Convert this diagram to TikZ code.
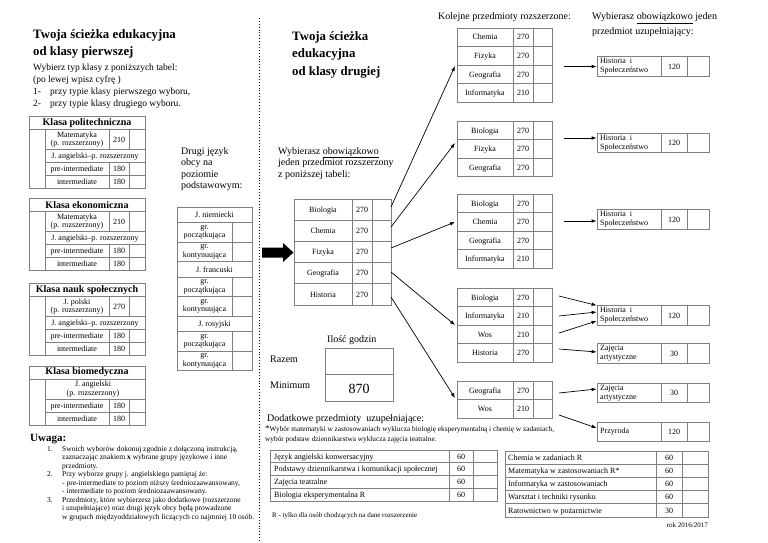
\documentclass[tikz,border=0pt]{standalone}
\usepackage{fontspec}
\setmainfont{Liberation Serif}
\usetikzlibrary{arrows.meta}

\newcommand{\fsz}[2]{\fontsize{#1}{#2}\selectfont}

\begin{document}
\begin{tikzpicture}[x=1pt,y=-1pt,
  frm/.style={draw=black!50,line width=.7pt},
  txt/.style={inner sep=0pt,anchor=base west,align=left},
  cell/.style={inner sep=0pt,align=center,font=\fsz{8}{8.6}},
  arr/.style={-{Latex[length=5pt,width=3.6pt]},line width=.7pt},
  sbox/.style={frm,minimum width=112pt,minimum height=19.5pt,inner sep=0pt}]

\useasboundingbox (0,0) rectangle (768,543);

% dotted separator
\draw[dotted,line width=.9pt] (259,18) -- (259,541);

% first class (base of a text block = base of its last line)
\node[txt,font=\bfseries\fsz{12.8}{16.5}] (tit1) at (33,55.5) {Twoja ścieżka edukacyjna\\od klasy pierwszej};
\node[txt,font=\fsz{9.5}{11.8}] (intro) at (33,106) {Wybierz typ klasy z poniższych tabel:\\(po lewej wpisz cyfrę )\\\makebox[17pt][l]{1-}przy typie klasy pierwszego wyboru,\\\makebox[17pt][l]{2-}przy typie klasy drugiego wyboru.};

\foreach \ty/\nm/\sj/\hh [count=\i] in {116/Klasa politechniczna/{Matematyka\\(p. rozszerzony)}/210,
  198/Klasa ekonomiczna/{Matematyka\\(p. rozszerzony)}/210,
  283/Klasa nauk społecznych/{J. polski\\(p. rozszerzony)}/270}{
  \draw[frm] (29,\ty) rectangle (145,\ty+72);
  \draw[frm] (29,\ty+13.5) -- (145,\ty+13.5) (45,\ty+13.5) -- (45,\ty+72);
  \foreach \y in {33,46,59} \draw[frm] (45,\ty+\y) -- (145,\ty+\y);
  \draw[frm] (109,\ty+13.5) -- (109,\ty+33) (129,\ty+13.5) -- (129,\ty+33);
  \draw[frm] (109,\ty+46) -- (109,\ty+72) (129,\ty+46) -- (129,\ty+72);
  \node[font=\bfseries\fsz{10}{10},inner sep=0pt] (kl\i) at (87,\ty+7) {\nm};
  \node[cell] (km\i) at (77,\ty+23.5) {\sj};
  \node[cell] (kh\i) at (119,\ty+23.5) {\hh};
  \node[cell,anchor=base] (ka\i) at (95,\ty+42) {J. angielski–p. rozszerzony};
  \node[cell,anchor=base] (kp\i) at (77,\ty+55) {pre-intermediate};
  \node[cell,anchor=base] (kq\i) at (119,\ty+55) {180};
  \node[cell,anchor=base] (ki\i) at (77,\ty+68) {intermediate};
  \node[cell,anchor=base] (kr\i) at (119,\ty+68) {180};
}

% biomedyczna
\draw[frm] (29,366) rectangle (145,425);
\draw[frm] (29,379) -- (145,379) (45,379) -- (45,425);
\draw[frm] (45,399) -- (145,399) (45,412) -- (145,412);
\draw[frm] (109,399) -- (109,425) (129,399) -- (129,425);
\node[font=\bfseries\fsz{10}{10},inner sep=0pt] (kl4) at (87,372.5) {Klasa biomedyczna};
\node[cell] (km4) at (93,389) {J. angielski\\(p. rozszerzony)};
\node[cell,anchor=base] (kp4) at (77,408) {pre-intermediate};
\node[cell,anchor=base] (kq4) at (119,408) {180};
\node[cell,anchor=base] (ki4) at (77,421) {intermediate};
\node[cell,anchor=base] (kr4) at (119,421) {180};

% uwaga
\node[txt,font=\bfseries\fsz{11}{11}] (uw) at (30,441) {Uwaga:};
\foreach \n/\y in {1/451,2/476.5,3/502}
  \node[txt,font=\fsz{7.5}{8.5}] (un\n) at (47,\y) {\n.};
\node[txt,font=\fsz{7.5}{8.5}] (ut1) at (62,468) {Swoich wyborów dokonuj zgodnie z dołączoną instrukcją,\\zaznaczając znakiem \textbf{x} wybrane grupy językowe i inne\\przedmioty.};
\node[txt,font=\fsz{7.5}{8.5}] (ut2) at (62,493.5) {Przy wyborze grupy j. angielskiego pamiętaj że:\\- pre-intermediate to poziom niższy średniozaawansowany,\\- intermediate to poziom średniozaawansowany.};
\node[txt,font=\fsz{7.5}{8.5}] (ut3) at (62,519) {Przedmioty, które wybierzesz jako dodatkowe (rozszerzone\\i uzupełniające) oraz drugi język obcy będą prowadzone\\w grupach międzyoddziałowych liczących co najmniej 10 osób.};

% second language
\node[txt,font=\fsz{10}{11.5}] (drugi) at (181,188.5) {Drugi język\\obcy na\\poziomie\\podstawowym:};
\foreach \j/\lang in {0/J. niemiecki,1/J. francuski,2/J. rosyjski}{
  \pgfmathsetmacro\y{207+54.5*\j}
  \draw[frm] (177,\y) rectangle (252,\y+54.5);
  \draw[frm] (177,\y+15.5) -- (252,\y+15.5) (177,\y+35) -- (252,\y+35);
  \draw[frm] (232,\y+15.5) -- (232,\y+54.5);
  \node[cell,anchor=base] (jz\j) at (214.5,\y+10.5) {\lang};
  \node[cell] (jp\j) at (204.5,\y+25.25) {gr.\\początkująca};
  \node[cell] (jk\j) at (204.5,\y+44.75) {gr.\\kontynuująca};
}

% second class
\node[txt,font=\bfseries\fsz{12.8}{17.5}] (tit2) at (292,75) {Twoja ścieżka\\edukacyjna\\od klasy drugiej};
\node[txt,font=\fsz{10}{11.5}] (wyb) at (278,177) {Wybierasz \underline{obowiązkowo}\\jeden przedmiot rozszerzony\\z poniższej tabeli:};
\fill (262,247.5) -- (283,247.5) -- (283,243) -- (293.5,252.5) -- (283,262) -- (283,257.5) -- (262,257.5) -- cycle;

\foreach \s/\hh [count=\i from 0] in {Biologia/270,Chemia/270,Fizyka/270,Geografia/270,Historia/270}{
  \draw[frm] (294,199+21.2*\i) rectangle (391,220.2+21.2*\i);
  \node[cell,anchor=base] (m\i) at (323,212.3+21.2*\i) {\s};
  \node[cell,anchor=base] (mh\i) at (362,212.3+21.2*\i) {\hh};
}
\draw[frm] (352,199) -- (352,305) (372,199) -- (372,305);

% hours
\node[txt,font=\fsz{10}{10}] (ilosc) at (327,342) {Ilość godzin};
\draw[frm] (325,348) rectangle (393,401) (325,374.5) -- (393,374.5);
\node[txt,font=\fsz{10}{10}] (razem) at (270,362) {Razem};
\node[txt,font=\fsz{10}{10}] (minim) at (270,388) {Minimum};
\node[font=\fsz{14}{14},inner sep=0pt,anchor=base] (min) at (359,393) {870};

% next subjects
\node[txt,font=\fsz{10}{10}] (kolejne) at (438,20) {Kolejne przedmioty rozszerzone:};
\node[txt,font=\fsz{10}{15}] (uzup) at (592,35) {Wybierasz \underline{obowiązkowo} jeden\\przedmiot uzupełniający:};

\foreach \tp/\n/\lst [count=\q] in {28/4/{Chemia/270,Fizyka/270,Geografia/270,Informatyka/210},
  121/3/{Biologia/270,Fizyka/270,Geografia/270},
  194/4/{Biologia/270,Chemia/270,Geografia/270,Informatyka/210},
  288/4/{Biologia/270,Informatyka/210,Wos/210,Historia/270},
  381/2/{Geografia/270,Wos/210}}{
  \foreach \s/\hh [count=\i from 0] in \lst {
    \draw[frm] (457,\tp+18.6*\i) rectangle (552,\tp+18.6+18.6*\i);
    \node[cell,anchor=base] (r\q-\i) at (485,\tp+12+18.6*\i) {\s};
    \node[cell,anchor=base] (rh\q-\i) at (523,\tp+12+18.6*\i) {\hh};
  }
  \draw[frm] (513,\tp) -- (513,\tp+18.6*\n) (533,\tp) -- (533,\tp+18.6*\n);
}

% supplementary boxes
\foreach \y/\nm/\s/\hh in {66.5/hs1/{Historia\ \ i\\Społeczeństwo}/120,
  143/hs2/{Historia\ \ i\\Społeczeństwo}/120,
  219.5/hs3/{Historia\ \ i\\Społeczeństwo}/120,
  315.5/hs4/{Historia\ \ i\\Społeczeństwo}/120,
  353.5/za1/{Zajęcia\\artystyczne}/30,
  393/za2/{Zajęcia\\artystyczne}/30,
  432/prz/Przyroda/120}{
  \node[sbox] (\nm) at (653,\y) {};
  \draw[frm] (661,\y-9.75) -- (661,\y+9.75) (687,\y-9.75) -- (687,\y+9.75);
  \node[cell,anchor=west,align=left,font=\fsz{8}{9}] (\nm-t) at (600,\y) {\s};
  \node[cell] (\nm-h) at (674,\y) {\hh};
}

% arrows from the chosen subject
\foreach \ys/\ye [count=\i] in {207/66,227/143,248/222,272/325,297/398}{
  \coordinate (ms\i) at (391,\ys);
  \coordinate (rt\i) at (455,\ye);
  \draw[arr] (ms\i) -- (rt\i);
}

% arrows to supplementary subjects
\coordinate (c1) at (564,66.5);
\coordinate (c2) at (564,138);
\coordinate (c3) at (564,221);
\coordinate (c4) at (559,296);
\coordinate (c5) at (559,316);
\coordinate (c6) at (559,333);
\coordinate (c7) at (559,349);
\coordinate (c8) at (559,393);
\coordinate (c9) at (559,415);
\draw[arr] (c1) -- (c1 -| hs1.west);
\draw[arr] (c2) -- (c2 -| hs2.west);
\draw[arr] (c3) -- (c3 -| hs3.west);
\draw[arr] (c4) -- (hs4.north west);
\draw[arr] (c5) -- ([yshift=3.5pt]hs4.west);
\draw[arr] (c6) -- ([yshift=-5.5pt]hs4.west);
\draw[arr] (c7) -- ([yshift=1.5pt]za1.west);
\draw[arr] (c8) -- ([yshift=4pt]za2.west);
\draw[arr] (c9) -- ([yshift=4pt]prz.west);

% additional subjects
\node[txt,font=\fsz{10}{10}] (dod) at (267,421) {Dodatkowe przedmioty\ \ uzupełniające:};
\node[txt,font=\fsz{7.3}{10.5}] (gw) at (265,441.5) {{\fsz{9}{9}*}Wybór matematyki w zastosowaniach wyklucza biologię eksperymentalną i chemię w zadaniach,\\wybór podstaw dziennikarstwa wyklucza zajęcia teatralne.};

\foreach \s [count=\i from 0] in {Język angielski konwersacyjny,Podstawy dziennikarstwa i komunikacji społecznej,Zajęcia teatralne,Biologia eksperymentalna R}{
  \draw[frm] (270,450+12.75*\i) rectangle (497,462.75+12.75*\i);
  \node[cell,anchor=base west] (da\i) at (274,459+12.75*\i) {\s};
  \node[cell,anchor=base] (dh\i) at (461,459+12.75*\i) {60};
}
\draw[frm] (449,450) -- (449,501) (473,450) -- (473,501);

\foreach \s/\hh [count=\i from 0] in {Chemia w zadaniach R/60,Matematyka w zastosowaniach R*/60,Informatyka w zastosowaniach/60,Warsztat i techniki rysunku/60,Ratownictwo w pożarnictwie/30}{
  \draw[frm] (505,451+13.2*\i) rectangle (708,464.2+13.2*\i);
  \node[cell,anchor=base west] (db\i) at (508,460.2+13.2*\i) {\s};
  \node[cell,anchor=base] (dbh\i) at (669,460.2+13.2*\i) {\hh};
}
\draw[frm] (656,451) -- (656,517) (682,451) -- (682,517);

\node[txt,font=\fsz{7}{8}] (rmk) at (272,517) {R - tylko dla osób chodzących na dane rozszerzenie};
\node[inner sep=0pt,anchor=base east,font=\fsz{7}{8}] (rok) at (708,527) {rok 2016/2017};
\end{tikzpicture}
\end{document}
